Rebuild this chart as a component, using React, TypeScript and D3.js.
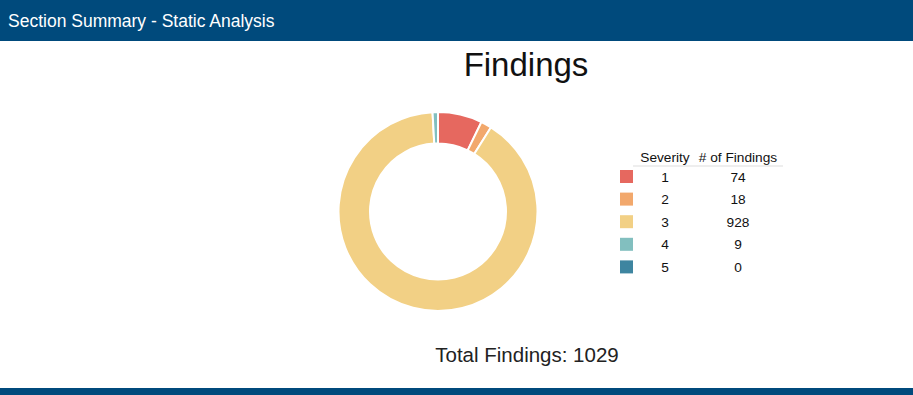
import React from 'react';
import * as d3 from 'd3';

const severities = ['1', '2', '3', '4', '5'];
const findings = [74, 18, 928, 9, 0];
const colors = ['#E6685F', '#F2A86C', '#F2D085', '#82BFBF', '#3E85A0'];

const W = 913;
const H = 395;
const font = "'Liberation Sans', Arial, sans-serif";

export default function App() {
  const total = d3.sum(findings);
  const cx = 438;
  const cy = 211.5;

  const pie = d3
    .pie<number>()
    .sort(null)
    .value(d => d);
  const arcs = pie(findings);
  const arc = d3
    .arc<d3.PieArcDatum<number>>()
    .innerRadius(68)
    .outerRadius(99.5);

  const legendX = 620;
  const legendY = 170;
  const rowH = 22.6;
  const sevX = 665;
  const cntX = 738;

  return (
    <svg
      width={W}
      height={H}
      style={{ position: 'absolute', left: 0, top: 0, background: '#fff' }}
      fontFamily={font}
    >
      {/* header bar */}
      <rect x={0} y={0} width={W} height={41} fill="#004A7C" />
      <text x={8} y={26.5} fill="#fff" fontSize={17.5}>
        Section Summary - Static Analysis
      </text>

      <text x={526} y={76} textAnchor="middle" fontSize={33} fill="#111">
        Findings
      </text>

      {/* donut */}
      <g transform={`translate(${cx},${cy})`}>
        {arcs.map((a, i) => (
          <path
            key={i}
            d={arc(a) || ''}
            fill={colors[i]}
            stroke="#fff"
            strokeWidth={a.value > 0 ? 2 : 0}
          />
        ))}
      </g>

      {/* legend table */}
      <text x={sevX} y={162} textAnchor="middle" fontSize={13.7} fill="#111">
        Severity
      </text>
      <text x={cntX} y={162} textAnchor="middle" fontSize={13.7} fill="#111">
        # of Findings
      </text>
      <line x1={633} x2={783} y1={166} y2={166} stroke="#ddd" />
      {severities.map((s, i) => (
        <g key={s}>
          <rect
            x={legendX}
            y={legendY + i * rowH}
            width={13}
            height={13}
            fill={colors[i]}
          />
          <text
            x={sevX}
            y={legendY + i * rowH + 11.5}
            textAnchor="middle"
            fontSize={13.7}
            fill="#111"
          >
            {s}
          </text>
          <text
            x={cntX}
            y={legendY + i * rowH + 11.5}
            textAnchor="middle"
            fontSize={13.7}
            fill="#111"
          >
            {findings[i]}
          </text>
        </g>
      ))}

      <text x={527} y={362} textAnchor="middle" fontSize={20.5} fill="#222">
        {`Total Findings: ${total}`}
      </text>

      {/* bottom bar */}
      <rect x={0} y={388} width={W} height={H - 388} fill="#004A7C" />
    </svg>
  );
}
